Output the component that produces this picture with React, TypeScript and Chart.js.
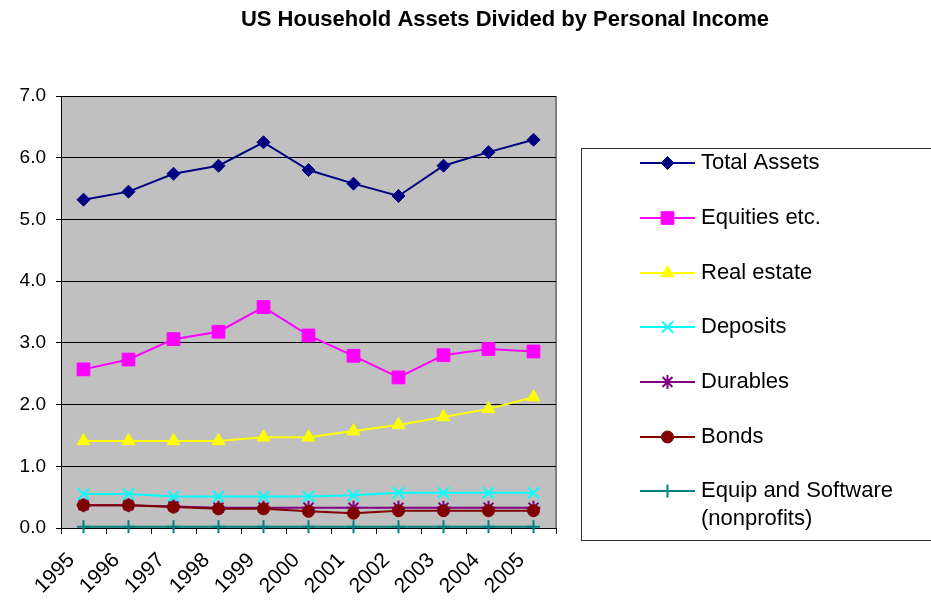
import React, { useEffect, useRef } from "react";
import { Chart, registerables } from "chart.js";
import { drawPoint } from "chart.js/helpers";

Chart.register(...registerables);

const years = ["1995", "1996", "1997", "1998", "1999", "2000", "2001", "2002", "2003", "2004", "2005"];
const yTicks = [0, 1, 2, 3, 4, 5, 6, 7];

const totalAssets = [5.32, 5.45, 5.74, 5.87, 6.25, 5.8, 5.58, 5.38, 5.87, 6.09, 6.29];
const equities = [2.57, 2.73, 3.06, 3.18, 3.58, 3.12, 2.79, 2.44, 2.8, 2.9, 2.86];
const realEstate = [1.41, 1.41, 1.41, 1.41, 1.47, 1.47, 1.57, 1.67, 1.8, 1.93, 2.12];
const deposits = [0.55, 0.55, 0.51, 0.51, 0.51, 0.51, 0.53, 0.57, 0.57, 0.57, 0.57];
const durables = [0.37, 0.37, 0.35, 0.33, 0.33, 0.33, 0.33, 0.33, 0.33, 0.33, 0.33];
const bonds = [0.37, 0.37, 0.34, 0.31, 0.31, 0.27, 0.24, 0.28, 0.28, 0.28, 0.28];
const equip = [0.02, 0.02, 0.02, 0.02, 0.02, 0.02, 0.02, 0.02, 0.02, 0.02, 0.02];

const seriesNames: (string | string[])[] = [
  "Total Assets",
  "Equities etc.",
  "Real estate",
  "Deposits",
  "Durables",
  "Bonds",
  ["Equip and Software", "(nonprofits)"],
];

const FONT = "'Liberation Sans', Arial, sans-serif";

export default function App() {
  const ref = useRef<HTMLCanvasElement | null>(null);

  useEffect(() => {
    if (!ref.current) return;

    const mk = (
      i: number,
      data: number[],
      color: string,
      pointStyle: string,
      radius: number,
      filled = true
    ) => ({
      label: seriesNames[i] as any,
      data,
      borderColor: color,
      backgroundColor: filled ? color : "transparent",
      pointStyle,
      pointRadius: radius,
      pointHoverRadius: radius,
      pointBorderColor: color,
      pointBackgroundColor: filled ? color : "transparent",
      pointBorderWidth: filled ? 1 : 2,
      borderWidth: 2,
      tension: 0,
      clip: false,
      order: 10 - i,
    });

    const datasets = [
      mk(0, totalAssets, "#000080", "rectRot", 6.5),
      mk(1, equities, "#FF00FF", "rect", 9),
      mk(2, realEstate, "#FFFF00", "triangle", 7.5),
      mk(3, deposits, "#00FFFF", "crossRot", 8, false),
      mk(4, durables, "#800080", "star", 7, false),
      mk(5, bonds, "#800000", "circle", 6),
      mk(6, equip, "#008080", "cross", 6.5, false),
    ];

    const bgPlugin = {
      id: "bgPlugin",
      beforeDraw(chart: any) {
        const { ctx, chartArea: a } = chart;
        ctx.save();
        ctx.fillStyle = "#ffffff";
        ctx.fillRect(0, 0, chart.width, chart.height);
        ctx.fillStyle = "#C0C0C0";
        ctx.fillRect(a.left, a.top, a.right - a.left, a.bottom - a.top);
        ctx.strokeStyle = "#808080";
        ctx.lineWidth = 2;
        ctx.beginPath();
        ctx.moveTo(a.right, a.top);
        ctx.lineTo(a.right, a.bottom);
        ctx.stroke();
        ctx.restore();
      },
      afterDraw(chart: any) {
        const { ctx } = chart;
        ctx.save();
        // title
        ctx.fillStyle = "#000";
        ctx.font = `bold 22px ${FONT}`;
        ctx.textAlign = "center";
        ctx.textBaseline = "middle";
        ctx.fillText("US Household Assets Divided by Personal Income", 505, 20);

        // legend box
        ctx.strokeStyle = "#333";
        ctx.lineWidth = 1;
        ctx.strokeRect(581.5, 148.5, 360, 392);

        const rowY = [163, 218, 273, 327, 382, 437, 491];
        chart.data.datasets.forEach((ds: any, i: number) => {
          const y = rowY[i];
          ctx.strokeStyle = ds.borderColor;
          ctx.lineWidth = 2;
          ctx.beginPath();
          ctx.moveTo(640, y);
          ctx.lineTo(695, y);
          ctx.stroke();
          ctx.fillStyle = ds.pointBackgroundColor;
          ctx.strokeStyle = ds.pointBorderColor;
          ctx.lineWidth = ds.pointBorderWidth;
          drawPoint(
            ctx,
            { pointStyle: ds.pointStyle, rotation: 0, borderWidth: ds.pointBorderWidth, radius: ds.pointRadius } as any,
            667.5,
            y
          );
          ctx.fillStyle = "#000";
          ctx.font = `22px ${FONT}`;
          ctx.textAlign = "left";
          ctx.textBaseline = "middle";
          const lines = Array.isArray(ds.label) ? ds.label : [ds.label];
          lines.forEach((t: string, k: number) => ctx.fillText(t, 701, y + k * 28));
        });
        ctx.restore();
      },
    };

    const chart = new Chart(ref.current, {
      type: "line",
      data: { labels: years, datasets: datasets as any },
      plugins: [bgPlugin],
      options: {
        responsive: false,
        animation: false,
        layout: { padding: { top: 96, right: 375, bottom: 0, left: 0 } },
        plugins: { legend: { display: false }, title: { display: false }, tooltip: { enabled: false } },
        scales: {
          x: {
            type: "category",
            offset: true,
            grid: { offset: true, drawOnChartArea: false, drawTicks: true, tickLength: 6, color: "#000", lineWidth: 1 },
            border: { color: "#000", width: 1 },
            ticks: {
              color: "#000",
              font: { family: FONT, size: 21 },
              maxRotation: 45,
              minRotation: 45,
              autoSkip: false,
              labelOffset: -12,
              padding: 14,
            },
            afterFit: (s: any) => {
              s.height = 72;
            },
          },
          y: {
            min: 0,
            max: 7,
            afterBuildTicks: (s: any) => {
              s.ticks = yTicks.map((v) => ({ value: v }));
            },
            grid: { color: "#000", lineWidth: 1, tickLength: 5 },
            border: { color: "#000", width: 1 },
            ticks: {
              color: "#000",
              font: { family: FONT, size: 19 },
              padding: 10,
              callback: (v: any) => Number(v).toFixed(1),
            },
            afterFit: (s: any) => {
              s.width = 61;
            },
          },
        },
      },
    });
    return () => chart.destroy();
  }, []);

  return (
    <div style={{ position: "absolute", left: 0, top: 0, width: 931, height: 600, background: "#fff" }}>
      <canvas ref={ref} width={931} height={600} style={{ width: 931, height: 600, display: "block" }} />
    </div>
  );
}
